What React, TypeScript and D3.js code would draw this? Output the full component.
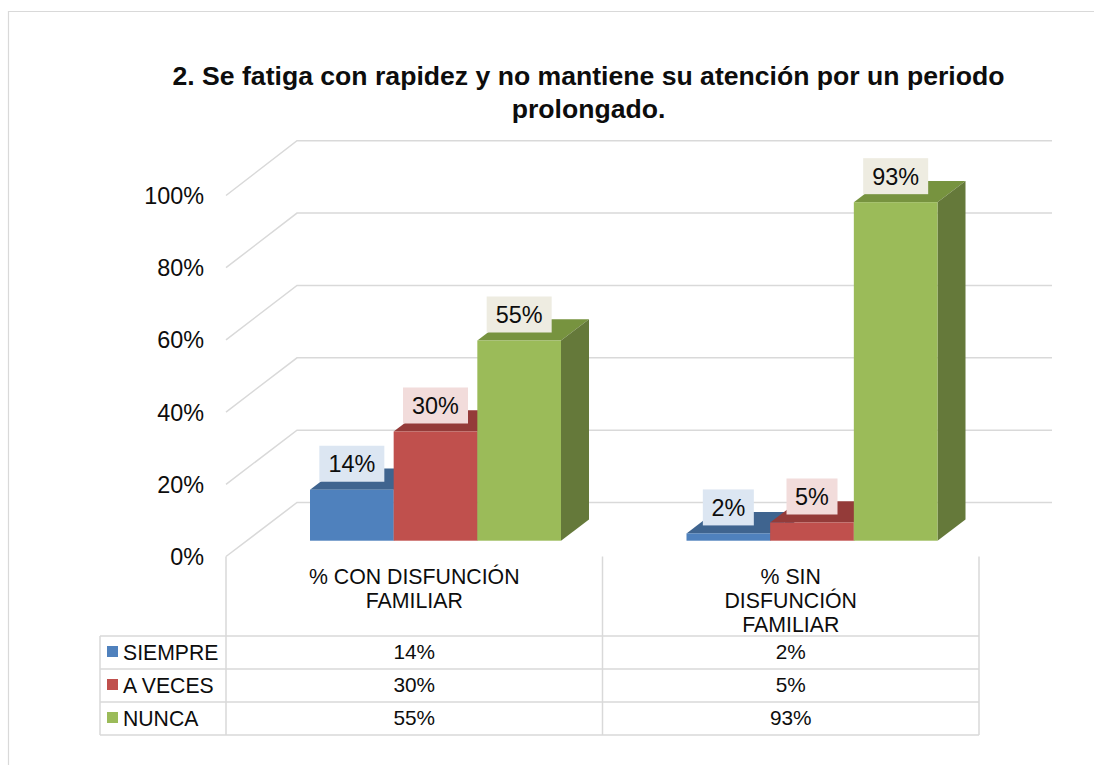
import React from "react";
import * as d3 from "d3";

const titleLines = ["2. Se fatiga con rapidez y no mantiene su atención por un periodo", "prolongado."];
const categories = ["% CON DISFUNCIÓN FAMILIAR", "% SIN DISFUNCIÓN FAMILIAR"];
const categoryLines = [["% CON DISFUNCIÓN", "FAMILIAR"], ["% SIN", "DISFUNCIÓN", "FAMILIAR"]];
const seriesNames = ["SIEMPRE", "A VECES", "NUNCA"];
const siempre = [14, 2];
const aVeces = [30, 5];
const nunca = [55, 93];
const seriesValues = [siempre, aVeces, nunca];
const axisTicks = [0, 20, 40, 60, 80, 100];
const frontColors = ["#4F81BD", "#C0504D", "#9BBB59"];
const topColors = ["#3F648F", "#943B39", "#77933F"];
const sideColors = ["#34527A", "#7C3130", "#65793A"];
const labelColors = ["#DCE6F2", "#F2DCDB", "#EEECE1"];

const GRID = "#D9D9D9";
const FONT = "'Liberation Sans', Arial, sans-serif";
const TEXT = "#0d0d0d";

const yFront = d3.scaleLinear().domain([0, 100]).range([556.5, 195.5]);
const yBack = d3.scaleLinear().domain([0, 100]).range([502.5, 140.7]);
const yBar = d3.scaleLinear().domain([0, 100]).range([540.7, 176.7]);
const x0 = d3.scaleBand().domain(categories).range([226, 979]);
const x1 = d3.scaleBand().domain(seriesNames).range([84, 335]);
const rowY = d3.scaleBand().domain(seriesNames).range([636, 735]);

const BACK_L = 297;
const BACK_R = 1052;
const BAR_DX = 28;
const BAR_DY = 21.3;

const poly = (pts: [number, number][]) => d3.line()(pts) + "Z";
const pct = (v: number) => `${v}%`;

export default function App() {
  const w = x1.bandwidth();
  return (
    <svg
      width={1094}
      height={765}
      viewBox="0 0 1094 765"
      style={{ position: "absolute", left: 0, top: 0, display: "block", background: "#fff" }}
      fontFamily={FONT}
      fill={TEXT}
    >
      <path d="M8.5,765V11.5H1094" fill="none" stroke={GRID} strokeWidth={1.2} />

      {titleLines.map((t, i) => (
        <text key={i} x={588.5} y={85 + i * 33} fontSize={26.6} fontWeight="bold" textAnchor="middle">{t}</text>
      ))}

      {axisTicks.map((t) => (
        <g key={t}>
          <path
            d={`M226,${yFront(t)}L${BACK_L},${yBack(t)}H${BACK_R}`}
            fill="none"
            stroke={GRID}
            strokeWidth={1.5}
          />
          <text x={204} y={yFront(t) + 8.5} fontSize={23.4} textAnchor="end">{pct(t)}</text>
        </g>
      ))}

      {categories.map((c, ci) =>
        seriesNames.map((s, si) => {
          const v = seriesValues[si][ci];
          const x = x0(c)! + x1(s)!;
          const top = yBar(v);
          const bottom = yBar(0);
          return (
            <g key={s + c}>
              <path
                d={poly([[x, top], [x + w, top], [x + w + BAR_DX, top - BAR_DY], [x + BAR_DX, top - BAR_DY]])}
                fill={topColors[si]}
              />
              <path
                d={poly([[x + w, top], [x + w + BAR_DX, top - BAR_DY], [x + w + BAR_DX, bottom - BAR_DY], [x + w, bottom]])}
                fill={sideColors[si]}
              />
              <rect x={x} y={top} width={w} height={bottom - top} fill={frontColors[si]} />
            </g>
          );
        })
      )}

      {categories.map((c, ci) =>
        seriesNames.map((s, si) => {
          const v = seriesValues[si][ci];
          const cx = x0(c)! + x1(s)! + w / 2;
          const cy = yBar(v) - 26;
          const bw = v < 10 ? 51 : 65;
          return (
            <g key={s + c}>
              <rect x={cx - bw / 2} y={cy - 18} width={bw} height={36} fill={labelColors[si]} />
              <text x={cx} y={cy + 8.5} fontSize={23.4} textAnchor="middle">{pct(v)}</text>
            </g>
          );
        })
      )}

      <g fill="none" stroke={GRID} strokeWidth={1.5}>
        <path d={`M100,${rowY.range()[0]}H${x0.range()[1]}`} />
        {seriesNames.map((s) => (
          <path key={s} d={`M100,${rowY(s)! + rowY.bandwidth()}H${x0.range()[1]}`} />
        ))}
        <path d={`M100,${rowY.range()[0]}V${rowY.range()[1]}`} />
        {[x0.range()[0], x0(categories[1])!, x0.range()[1]].map((x) => (
          <path key={x} d={`M${x},${yFront(0)}V${rowY.range()[1]}`} />
        ))}
      </g>

      {categories.map((c, ci) =>
        categoryLines[ci].map((l, i) => (
          <text key={l} x={x0(c)! + x0.bandwidth() / 2} y={583.5 + i * 24.3} fontSize={21.3} textAnchor="middle">{l}</text>
        ))
      )}

      {seriesNames.map((s, si) => {
        const y = rowY(s)! + rowY.bandwidth() / 2;
        return (
          <g key={s}>
            <rect x={107} y={y - 6.5} width={11} height={11} fill={frontColors[si]} />
            <text x={123} y={y + 7} fontSize={21.2} >{s}</text>
            {categories.map((c, ci) => (
              <text key={c} x={x0(c)! + x0.bandwidth() / 2} y={y + 6.5} fontSize={20.8} textAnchor="middle">
                {pct(seriesValues[si][ci])}
              </text>
            ))}
          </g>
        );
      })}
    </svg>
  );
}
